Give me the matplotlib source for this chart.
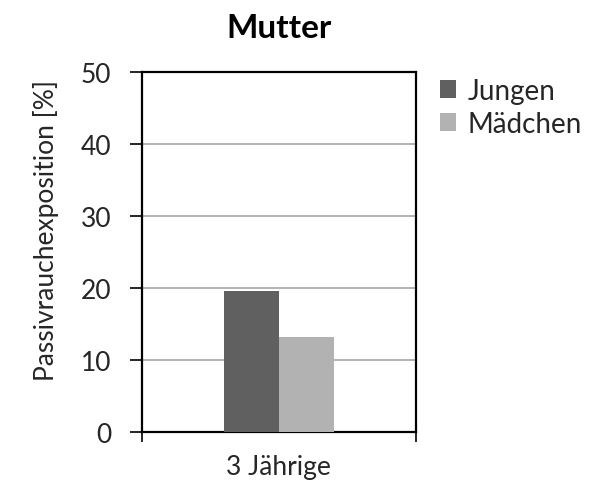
import matplotlib.pyplot as plt
import numpy as np

plt.rcParams['font.family'] = ['Lato', 'DejaVu Sans']

# data
categories = ["3 Jährige"]
series = ["Jungen", "Mädchen"]
jungen = [19.5]
maedchen = [13.2]
colors = ["#606060", "#b2b2b2"]

fig = plt.figure(figsize=(6.1, 4.85), dpi=100)
ax = fig.add_axes([0.2323, 0.1072, 0.4497, 0.743])

x = np.arange(len(categories))
width = 0.2
ax.bar(x - width / 2, jungen, width, color=colors[0], label=series[0], zorder=3)
ax.bar(x + width / 2, maedchen, width, color=colors[1], label=series[1], zorder=3)

ax.set_xlim(-0.5, 0.5)
ax.set_ylim(0, 50)
ax.set_yticks(np.arange(0, 51, 10))
ax.tick_params(axis='y', labelsize=19, length=9, width=1.2, pad=13,
               labelcolor='#262626')
ax.yaxis.grid(True, color='#a6a6a6', linewidth=1.2, zorder=0)

# category label centred, boundary ticks at axis edges
ax.set_xticks([-0.5, 0.5])
ax.set_xticklabels(['', ''])
ax.tick_params(axis='x', length=7, width=1.2)
ax.text(0, -0.097, categories[0], transform=ax.get_xaxis_transform(),
        ha='center', va='center', fontsize=19, color='#262626')

for s in ax.spines.values():
    s.set_linewidth(1.6)
    s.set_color('black')

ax.set_ylabel('Passivrauchexposition [%]', fontsize=19, color='#262626')
ax.yaxis.set_label_coords(-0.3, 0.563)
ax.set_title('Mutter', fontsize=24, fontweight='bold', pad=25)

ax.legend(loc='upper left', bbox_to_anchor=(0.721, 0.838),
          bbox_transform=fig.transFigure, frameon=False,
          fontsize=20, handlelength=0.6, handleheight=0.6,
          handletextpad=0.4, labelspacing=0.25, borderpad=0,
          borderaxespad=0, labelcolor='#262626')

fig.savefig('out.png', dpi=100)
